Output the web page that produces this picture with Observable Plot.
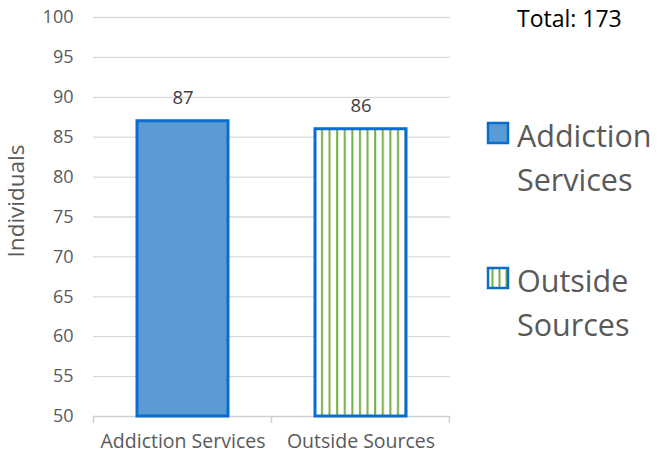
<!DOCTYPE html>
<html><head><meta charset="utf-8">
<script src="https://cdn.jsdelivr.net/npm/d3@7"></script>
<script src="https://cdn.jsdelivr.net/npm/@observablehq/plot@0.6"></script>
<style>
body{margin:0;background:#fff;}
#chart{position:relative;width:657px;height:461px;}
</style>
</head><body><div id="chart"></div>
<script>
const categories = ["Addiction Services", "Outside Sources"];
const values = [87, 86];
const yTicks = [50, 55, 60, 65, 70, 75, 80, 85, 90, 95, 100];
const legendLines = [["Addiction", "Services"], ["Outside", "Sources"]];
const totalLabel = "Total: 173";
const yLabel = "Individuals";

const data = categories.map((c, i) => ({cat: c, value: values[i]}));
const FONT = "'Open Sans', sans-serif";
const TXT = "#595959";
const EDGE = "#0a6ccf";

const plot = Plot.plot({
  width: 657, height: 461,
  marginLeft: 93, marginRight: 207, marginTop: 17, marginBottom: 45,
  style: {fontFamily: FONT, color: TXT, background: "#fff"},
  x: {domain: categories, paddingInner: 0.49, paddingOuter: 0.245},
  y: {domain: [50, 100]},
  marks: [
    Plot.gridY(yTicks.filter(t => t > 50), {stroke: "#d9d9d9", strokeOpacity: 1, strokeWidth: 1.3}),
    Plot.ruleY([50], {stroke: "#d0d0d0", strokeWidth: 1.5}),
    Plot.axisY(yTicks, {tickSize: 0, tickPadding: 20, fontSize: 18, fill: TXT, label: null}),
    Plot.axisX({tickSize: 0, tickPadding: 18, fontSize: 19.5, fill: TXT, label: null}),
    Plot.barY(data.filter((d, i) => i === 0), {x: "cat", y1: 50, y2: "value", fill: "#5b9bd5", stroke: EDGE, strokeWidth: 3}),
    Plot.barY(data.filter((d, i) => i === 1), {x: "cat", y1: 50, y2: "value", fill: "url(#stripes)", stroke: EDGE, strokeWidth: 3}),
    Plot.text(data, {x: "cat", y: "value", text: d => String(d.value), dy: -23, fill: "#404040", fontSize: 18.5})
  ]
});

document.getElementById("chart").appendChild(plot);
const svg = d3.select(plot);

const defs = svg.insert("defs", ":first-child");
const pat = defs.append("pattern").attr("id", "stripes").attr("patternUnits", "userSpaceOnUse")
  .attr("width", 7.6).attr("height", 10).attr("x", 318);
pat.append("rect").attr("width", 7.6).attr("height", 10).attr("fill", "#fff");
pat.append("rect").attr("x", 3).attr("width", 2).attr("height", 10).attr("fill", "#70ad47");
const pat2 = defs.append("pattern").attr("id", "stripes2").attr("patternUnits", "userSpaceOnUse")
  .attr("width", 7).attr("height", 10).attr("x", 489);
pat2.append("rect").attr("width", 7).attr("height", 10).attr("fill", "#fff");
pat2.append("rect").attr("x", 2.5).attr("width", 2).attr("height", 10).attr("fill", "#70ad47");

// band boundary ticks on x axis
const xs = plot.scale("x");
const yS = plot.scale("y");
const y0 = yS.apply(50);
const step = xs.step;
const bounds = [xs.apply(categories[0]) + xs.bandwidth / 2 - step / 2];
categories.forEach(c => bounds.push(xs.apply(c) + xs.bandwidth / 2 + step / 2));
svg.append("g").selectAll("line").data(bounds).join("line")
  .attr("x1", d => d).attr("x2", d => d).attr("y1", y0).attr("y2", y0 + 7)
  .attr("stroke", "#d0d0d0").attr("stroke-width", 1.5);

// y label
svg.append("text").text(yLabel)
  .attr("transform", `translate(24,201) rotate(-90)`)
  .attr("text-anchor", "middle").attr("font-size", 22.5).attr("fill", TXT).attr("font-family", FONT);

// total
svg.append("text").text(totalLabel).attr("x", 517).attr("y", 27)
  .attr("text-anchor", "start")
  .attr("font-size", 23).attr("fill", "#000").attr("font-family", FONT);

// legend
const leg = svg.append("g").attr("font-family", FONT).attr("fill", TXT).attr("text-anchor", "start");
const legTop = [123, 268];
const legFill = ["#5b9bd5", "url(#stripes2)"];
legendLines.forEach((lines, i) => {
  leg.append("rect").attr("x", 488).attr("y", legTop[i]).attr("width", 20).attr("height", 20)
    .attr("fill", legFill[i]).attr("stroke", EDGE).attr("stroke-width", 2.5);
  lines.forEach((t, j) => {
    leg.append("text").text(t).attr("x", 517).attr("y", legTop[i] + 24 + j * 44)
      .attr("text-anchor", "start")
      .attr("font-size", 30.5).attr("fill", TXT);
  });
});
</script>
</body></html>
